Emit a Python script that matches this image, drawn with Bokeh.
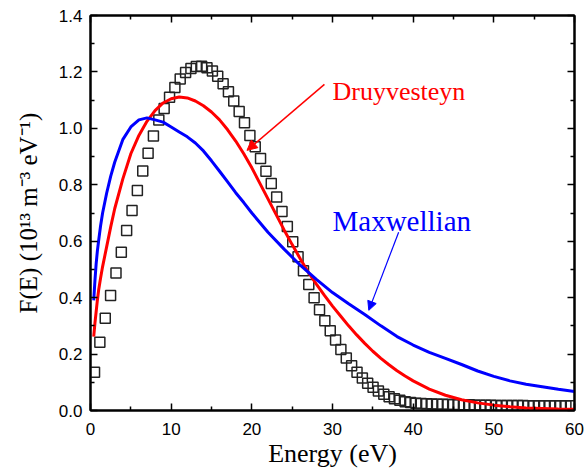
from bokeh.plotting import figure
from bokeh.models import (Range1d, LinearAxis, FixedTicker, Label, Arrow,
                          NormalHead, ColumnDataSource, PrintfTickFormatter)
from bokeh.embed import file_html
from bokeh.resources import INLINE

# ---- data ----
meas_energy = [0.50, 1.16, 1.83, 2.49, 3.16, 3.82, 4.48, 5.15, 5.81, 6.48,
               7.14, 7.80, 8.47, 9.13, 9.80, 10.46, 11.12, 11.79, 12.45, 13.12,
               13.78, 14.44, 15.11, 15.77, 16.44, 17.10, 17.76, 18.43, 19.09, 19.76,
               20.42, 21.08, 21.75, 22.41, 23.08, 23.74, 24.40, 25.07, 25.73, 26.40,
               27.06, 27.72, 28.39, 29.05, 29.72, 30.38, 31.04, 31.71, 32.37, 33.04,
               33.70, 34.36, 35.03, 35.69, 36.36, 37.02, 37.68, 38.35, 39.01, 39.68,
               40.34, 41.00, 41.67, 42.33, 43.00, 43.66, 44.32, 44.99, 45.65, 46.32,
               46.98, 47.64, 48.31, 48.97, 49.64, 50.30, 50.96, 51.63, 52.29, 52.96,
               53.62, 54.28, 54.95, 55.61, 56.28, 56.94, 57.60, 58.27, 58.93, 59.60]
meas_f = [0.136, 0.242, 0.327, 0.408, 0.487, 0.561, 0.638, 0.709, 0.780, 0.849,
          0.912, 0.973, 1.030, 1.070, 1.110, 1.145, 1.175, 1.198, 1.212, 1.219,
          1.220, 1.215, 1.203, 1.185, 1.158, 1.130, 1.097, 1.060, 1.020, 0.975,
          0.935, 0.893, 0.848, 0.805, 0.757, 0.705, 0.652, 0.598, 0.545, 0.495,
          0.447, 0.400, 0.357, 0.318, 0.283, 0.250, 0.216, 0.186, 0.159, 0.136,
          0.115, 0.097, 0.082, 0.069, 0.058, 0.049, 0.042, 0.036, 0.031, 0.028,
          0.026, 0.025, 0.024, 0.023, 0.022, 0.022, 0.021, 0.021, 0.020, 0.020,
          0.020, 0.019, 0.019, 0.019, 0.019, 0.018, 0.018, 0.018, 0.018, 0.018,
          0.018, 0.017, 0.017, 0.017, 0.017, 0.017, 0.017, 0.017, 0.017, 0.017]

druy_energy = [0.4, 0.55, 0.7, 0.85, 1, 1.25, 1.5, 2, 2.5, 3, 4, 5, 6, 7, 8, 9, 10,
               11, 12, 13, 14, 15, 16, 17, 18, 19, 20, 21, 22, 23, 24, 25, 26, 27,
               28, 29, 30, 31, 32, 33, 34, 35, 36, 37, 38, 39, 40, 42, 44, 46, 48,
               50, 52, 54, 56, 58, 60]
druy_f = [0.262, 0.31, 0.35, 0.39, 0.425, 0.47, 0.51, 0.58, 0.65, 0.715, 0.82, 0.91,
          0.975, 1.025, 1.063, 1.09, 1.105, 1.111, 1.108, 1.097, 1.08, 1.058, 1.03,
          0.995, 0.955, 0.91, 0.86, 0.805, 0.75, 0.695, 0.64, 0.588, 0.538, 0.49,
          0.448, 0.408, 0.37, 0.335, 0.30, 0.268, 0.238, 0.21, 0.185, 0.162, 0.141,
          0.122, 0.105, 0.076, 0.054, 0.038, 0.027, 0.019, 0.013, 0.009, 0.007,
          0.005, 0.004]

maxw_energy = [0.4, 0.55, 0.7, 0.85, 1, 1.25, 1.5, 2, 2.5, 3, 4, 5, 6, 7, 8, 9, 10,
               11, 12, 13, 14, 15, 16, 17, 18, 19, 20, 22, 24, 26, 28, 30, 32, 34,
               36, 38, 40, 42, 44, 46, 48, 50, 52, 54, 56, 58, 60]
maxw_f = [0.39, 0.46, 0.52, 0.565, 0.60, 0.655, 0.70, 0.77, 0.83, 0.88, 0.96, 1.005,
          1.03, 1.037, 1.03, 1.022, 1.005, 0.987, 0.97, 0.948, 0.92, 0.885, 0.848,
          0.81, 0.772, 0.737, 0.70, 0.632, 0.572, 0.515, 0.465, 0.418, 0.378, 0.340,
          0.30, 0.262, 0.232, 0.206, 0.185, 0.163, 0.140, 0.121, 0.105, 0.093,
          0.084, 0.075, 0.067]

x_ticks = [0, 10, 20, 30, 40, 50, 60]
x_minor = [5, 15, 25, 35, 45, 55]
y_ticks = [0.0, 0.2, 0.4, 0.6, 0.8, 1.0, 1.2, 1.4]
y_minor = [0.1, 0.3, 0.5, 0.7, 0.9, 1.1, 1.3]

SERIF = "Liberation Serif"
SANS = "Liberation Sans"

p = figure(width=584, height=471, x_range=Range1d(0, 60), y_range=Range1d(0, 1.4),
           output_backend="svg", toolbar_location=None,
           min_border_left=90, min_border_right=10, min_border_top=15,
           min_border_bottom=61)
p.grid.visible = False
p.outline_line_color = "black"
p.outline_line_width = 2
p.background_fill_color = "white"
p.border_fill_color = "white"

p.xaxis.ticker = FixedTicker(ticks=x_ticks, minor_ticks=x_minor)
p.yaxis.ticker = FixedTicker(ticks=y_ticks, minor_ticks=y_minor)
p.yaxis.formatter = PrintfTickFormatter(format="%.1f")

def style(ax):
    ax.axis_line_width = 2
    ax.axis_line_color = "black"
    ax.major_tick_in = 7
    ax.major_tick_out = 0
    ax.minor_tick_in = 4
    ax.minor_tick_out = 0
    ax.major_tick_line_width = 1.5
    ax.minor_tick_line_width = 1.5
    ax.major_label_text_font = SANS
    ax.major_label_text_font_size = "17px"
    ax.major_label_text_color = "black"
    ax.axis_label_text_font = SERIF
    ax.axis_label_text_font_style = "normal"
    ax.axis_label_text_color = "black"

for ax in (p.xaxis[0], p.yaxis[0]):
    style(ax)

p.xaxis.axis_label = "Energy (eV)"
p.xaxis.axis_label_text_font_size = "26px"
p.xaxis.major_label_standoff = 12
p.xaxis.axis_label_standoff = 1

p.yaxis.axis_label = "F(E) (10¹³ m⁻³ eV⁻¹)"
p.yaxis.axis_label_text_font_size = "25px"
p.yaxis.major_label_standoff = 8
p.yaxis.axis_label_standoff = 14

right = LinearAxis(ticker=FixedTicker(ticks=y_ticks, minor_ticks=y_minor))
top = LinearAxis(ticker=FixedTicker(ticks=x_ticks, minor_ticks=x_minor))
for ax in (right, top):
    style(ax)
    ax.major_label_text_font_size = "1px"
    ax.major_label_text_color = None
    ax.major_label_standoff = 0
p.add_layout(right, "right")
p.add_layout(top, "above")

meas = ColumnDataSource(dict(x=meas_energy, y=meas_f))
p.scatter("x", "y", source=meas, marker="square", size=10, fill_color=None,
          line_color="#222222", line_width=1.5)

p.line(druy_energy, druy_f, line_color="#ff0000", line_width=3)
p.line(maxw_energy, maxw_f, line_color="#0000ff", line_width=3)

p.add_layout(Label(x=30.0, y=1.131, text="Druyvesteyn", text_font=SERIF,
                   text_font_size="26px", text_color="#ff0000",
                   text_baseline="alphabetic"))
p.add_layout(Label(x=30.0, y=0.671, text="Maxwellian", text_font=SERIF,
                   text_font_size="29px", text_color="#0000ff",
                   text_baseline="alphabetic"))

p.add_layout(Arrow(x_start=29.0, y_start=1.156, x_end=19.4, y_end=0.922,
                   line_color="#ff0000", line_width=1.5,
                   end=NormalHead(size=10, fill_color="#ff0000",
                                  line_color="#ff0000", line_width=1)))
p.add_layout(Arrow(x_start=38.2, y_start=0.632, x_end=34.5, y_end=0.355,
                   line_color="#0000ff", line_width=1.2,
                   end=NormalHead(size=9, fill_color="#0000ff",
                                  line_color="#0000ff", line_width=1)))

open("out.html", "w").write(file_html(p, INLINE))
